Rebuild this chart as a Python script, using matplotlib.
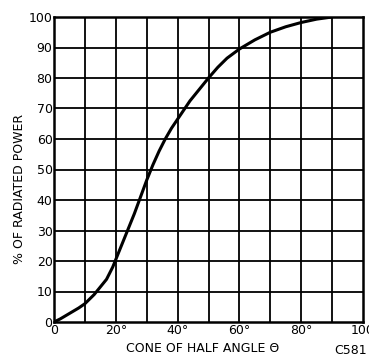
import matplotlib
matplotlib.use("Agg")
import matplotlib.pyplot as plt

angle_deg = [0, 2, 5, 8, 10, 13, 15, 17, 19, 20, 22, 24, 26, 28, 30, 32, 34, 36, 38,
             40, 42, 44, 46, 48, 50, 53, 56, 60, 65, 70, 75, 80, 85, 90]
radiated_pct = [0, 1.0, 2.8, 4.6, 6, 9, 11.5, 14, 18, 20.5, 25.5, 30.5, 35.5, 41, 46.5,
                51.5, 56, 60, 63.5, 66.5, 69.5, 72.5, 75, 77.5, 80, 83.5, 86.5, 89.5,
                92.5, 95, 96.8, 98.2, 99.3, 100]

x_ticks = [0, 20, 40, 60, 80, 100]
x_ticklabels = ["0", "20°", "40°", "60°", "80°", "100"]
y_ticks = list(range(0, 101, 10))
y_ticklabels = [str(v) for v in y_ticks]

plt.rcParams['font.family'] = ['DejaVu Sans']

fig = plt.figure(figsize=(3.69, 3.58), dpi=100)
ax = fig.add_axes([54/369, 1-322/358, (363-54)/369, (322-17)/358])

ax.set_xlim(0, 100)
ax.set_ylim(0, 100)
for v in range(10, 100, 10):
    ax.axvline(v, color='black', lw=1.3, zorder=1)
for v in range(10, 100, 10):
    ax.axhline(v, color='black', lw=1.3, zorder=1)

ax.plot(angle_deg, radiated_pct, color='black', lw=2.2, zorder=3,
        solid_capstyle='round', solid_joinstyle='round')

ax.set_xticks(x_ticks)
ax.set_xticklabels(x_ticklabels)
ax.set_yticks(y_ticks)
ax.set_yticklabels(y_ticklabels)
ax.tick_params(axis='both', length=0, labelsize=9, colors='black')
ax.tick_params(axis='x', pad=1.5)
ax.tick_params(axis='y', pad=1)

for s in ax.spines.values():
    s.set_linewidth(1.8)
    s.set_color('black')

fig.text(203/369, 1-348/358, "CONE OF HALF ANGLE Θ", fontsize=9, ha='center', va='center')
fig.text(20/369, 1-189/358, "% OF RADIATED POWER", fontsize=9, ha='center', va='center',
         rotation=90)
fig.text(351/369, 1-350/358, "C581", fontsize=9, ha='center', va='center')

fig.savefig("out.png", dpi=100)
